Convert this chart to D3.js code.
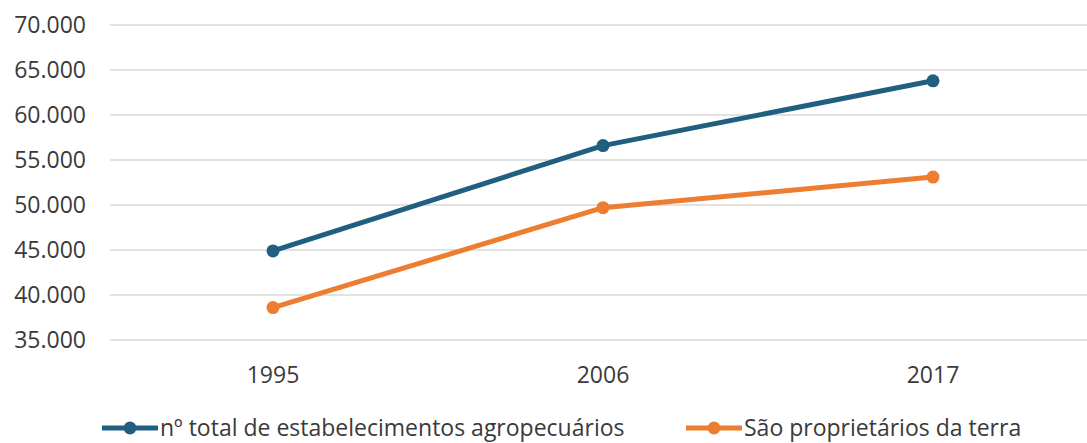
<!DOCTYPE html>
<html>
<head>
<meta charset="utf-8">
<script src="https://cdn.jsdelivr.net/npm/d3@7"></script>
<style>
  body { margin: 0; background: #fff; }
  svg text { font-family: "Open Sans", "Noto Sans", sans-serif; fill: #3a3a3a; }
</style>
</head>
<body>
<svg id="chart" width="1087" height="443"></svg>
<script>
// data
const years = ['1995', '2006', '2017'];
const totalEstab = [44900, 56600, 63800];
const proprietarios = [38600, 49700, 53100];
const yTicks = [35000, 40000, 45000, 50000, 55000, 60000, 65000, 70000];
const seriesNames = ['nº total de estabelecimentos agropecuários', 'São proprietários da terra'];
const colors = ['#215f80', '#ed7d31'];

let svg = d3.select('#chart');

let x = d3.scalePoint().domain(years).range([108, 1098]).padding(0.5);
let y = d3.scaleLinear().domain([35000, 70000]).range([340, 25]);

let fmt = d => d3.format(',')(d).replace(/,/g, '.');

// gridlines
svg.append('g')
    .selectAll('line')
    .data(yTicks)
    .enter()
    .append('line')
    .attr('x1', 110)
    .attr('x2', 1087)
    .attr('y1', d => y(d))
    .attr('y2', d => y(d))
    .attr('stroke', '#d9d9d9')
    .attr('stroke-width', 1.5);

// y labels
svg.append('g')
    .selectAll('text')
    .data(yTicks)
    .enter()
    .append('text')
    .attr('x', 86)
    .attr('y', d => y(d))
    .attr('dy', '0.35em')
    .attr('text-anchor', 'end')
    .style('font-size', '23px')
    .text(fmt);

// x labels
svg.append('g')
    .selectAll('text')
    .data(years)
    .enter()
    .append('text')
    .attr('x', d => x(d))
    .attr('y', 375)
    .attr('dy', '0.35em')
    .attr('text-anchor', 'middle')
    .style('font-size', '23px')
    .text(d => d);

let line = d3.line()
    .x((d, i) => x(years[i]))
    .y(d => y(d));

[totalEstab, proprietarios].forEach(function (vals, k) {
    let g = svg.append('g');
    g.append('path')
        .datum(vals)
        .attr('d', line)
        .attr('fill', 'none')
        .attr('stroke', colors[k])
        .attr('stroke-width', 5)
        .attr('stroke-linejoin', 'round');
    g.selectAll('circle')
        .data(vals)
        .enter()
        .append('circle')
        .attr('cx', (d, i) => x(years[i]))
        .attr('cy', d => y(d))
        .attr('r', 6.5)
        .attr('fill', colors[k]);
});

// legend
let legendX = [102, 686];
seriesNames.forEach(function (name, k) {
    let lg = svg.append('g').attr('transform', 'translate(' + legendX[k] + ',428)');
    lg.append('line')
        .attr('x1', 0).attr('x2', 56)
        .attr('stroke', colors[k])
        .attr('stroke-width', 5);
    lg.append('circle')
        .attr('cx', 28).attr('r', 6.5)
        .attr('fill', colors[k]);
    lg.append('text')
        .attr('x', 58)
        .attr('dy', '0.35em')
        .style('font-size', '23px')
        .text(name);
});
</script>
</body>
</html>
